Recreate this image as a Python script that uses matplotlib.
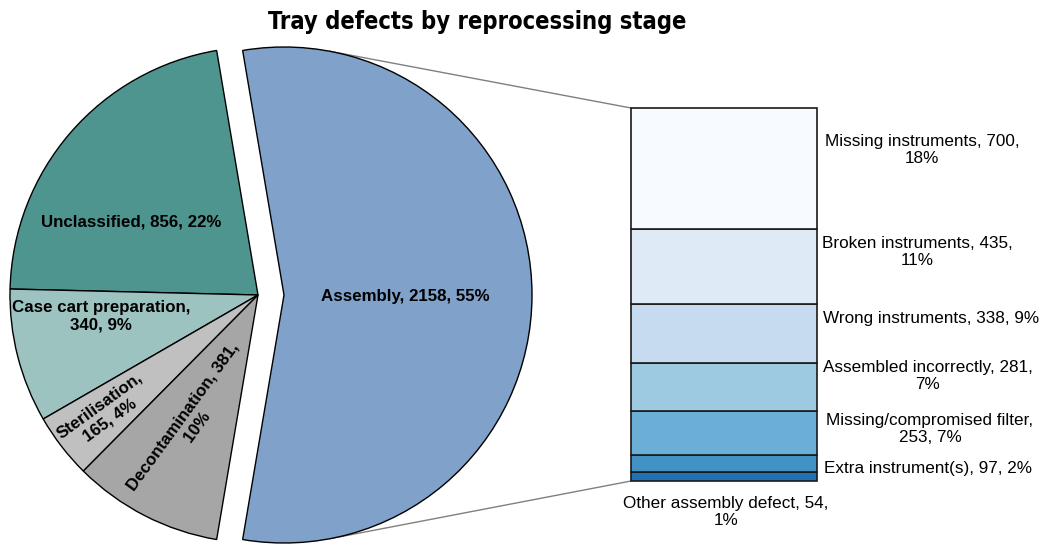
import numpy as np
import matplotlib
matplotlib.use("Agg")
import matplotlib.pyplot as plt
from matplotlib import font_manager as fm

# ---- data ----
stages = ["Assembly", "Unclassified", "Case cart preparation", "Sterilisation", "Decontamination"]
stage_counts = [2158, 856, 340, 165, 381]
stage_pcts = [55, 22, 9, 4, 10]

assembly_types = ["Missing instruments", "Broken instruments", "Wrong instruments",
                  "Assembled incorrectly", "Missing/compromised filter",
                  "Extra instrument(s)", "Other assembly defect"]
assembly_counts = [700, 435, 338, 281, 253, 97, 54]
assembly_pcts = [18, 11, 9, 7, 7, 2, 1]

# ---- styles ----
stage_colors = ["#7FA1CA", "#4F958F", "#9DC3C1", "#C0C0C0", "#A6A6A6"]
bar_colors = ["#F7FBFF", "#DEEBF7", "#C6DBEF", "#9ECAE1", "#6BAED6", "#4292C6", "#2171B5"]
plt.rcParams["font.family"] = ["Liberation Sans", "DejaVu Sans"]

# narrow face for the title if one is installed
narrow = [f for f in fm.fontManager.ttflist
          if f.weight in ("bold", 700) and ("Narrow" in f.name or "Condensed" in f.name
                                            or f.stretch in ("condensed", "semi-condensed"))]
title_font = dict(family=narrow[0].name, stretch=narrow[0].stretch) if narrow else dict(family="Liberation Sans")

W, H = 1050, 556
fig = plt.figure(figsize=(W / 100, H / 100), dpi=100)
ax = fig.add_axes([0, 0, 1, 1])

# pie (pixel coordinates, y up)
start = -180 * stage_counts[0] / sum(stage_counts)
wedges, _ = ax.pie(stage_counts, colors=stage_colors, startangle=start, counterclock=True,
                   radius=248, center=(258, 261), explode=[26, 0, 0, 0, 0],
                   wedgeprops=dict(edgecolor="black", linewidth=1))
ax.set_xlim(0, W)
ax.set_ylim(0, H)
ax.set_aspect("equal")
ax.axis("off")

# stacked bar for the assembly breakdown
bax = fig.add_axes([631 / W, 75 / H, 186 / W, 373 / H])
bottom = 0
for name, cnt, col in zip(assembly_types[::-1], assembly_counts[::-1], bar_colors[::-1]):
    bax.bar(0, cnt, bottom=bottom, width=1, color=col, edgecolor="#1A1A1A",
            linewidth=1.2, clip_on=False)
    bottom += cnt
bax.set_xlim(-0.5, 0.5)
bax.set_ylim(0, sum(assembly_counts))
bax.axis("off")

# connector lines: bar corners tangent to the exploded slice
w0 = wedges[0]
cx, cy = w0.center
r = w0.r
pos = bax.get_position()
for py, sign in [(pos.y1 * H, 1), (pos.y0 * H, -1)]:
    px = pos.x0 * W
    d = np.hypot(px - cx, py - cy)
    phi = np.arctan2(py - cy, px - cx)
    t = phi + sign * np.arccos(r / d)
    ax.plot([px, cx + r * np.cos(t)], [py, cy + r * np.sin(t)],
            color="#808080", linewidth=1, zorder=0)

# pie labels
pie_lbl = dict(fontsize=12.2, fontweight="bold", ha="center", va="center",
               multialignment="center", rotation_mode="anchor")
ax.text(405, 260, f"{stages[0]}, {stage_counts[0]}, {stage_pcts[0]}%", **pie_lbl)
ax.text(131, 334, f"{stages[1]}, {stage_counts[1]}, {stage_pcts[1]}%", **pie_lbl)
ax.text(101, 240, f"{stages[2]},\n{stage_counts[2]}, {stage_pcts[2]}%", **pie_lbl)
ax.text(105, 143, f"{stages[3]},\n{stage_counts[3]}, {stage_pcts[3]}%", rotation=36, **pie_lbl)
ax.text(190, 134, f"{stages[4]}, {stage_counts[4]},\n{stage_pcts[4]}%", rotation=54, **pie_lbl)

# bar labels
lbl_xy = [(922, 150), (917, 252), (931, 318), (928, 376), (930, 429), (928, 469), (726, 512)]
wrap = [True, True, False, True, True, False, True]
for name, cnt, pct, (x, y), wr in zip(assembly_types, assembly_counts, assembly_pcts, lbl_xy, wrap):
    if name == "Missing/compromised filter":
        s = f"{name},\n{cnt}, {pct}%"
    elif wr:
        s = f"{name}, {cnt},\n{pct}%"
    else:
        s = f"{name}, {cnt}, {pct}%"
    ax.text(x, H - y, s, fontsize=12.3, ha="center", va="center", multialignment="center",
            linespacing=1.15)

fig.text(477 / W, 1 - 22 / H, "Tray defects by reprocessing stage", fontsize=17,
         fontweight="bold", ha="center", va="center", **title_font)

fig.savefig("out.png", dpi=100, facecolor="white")
